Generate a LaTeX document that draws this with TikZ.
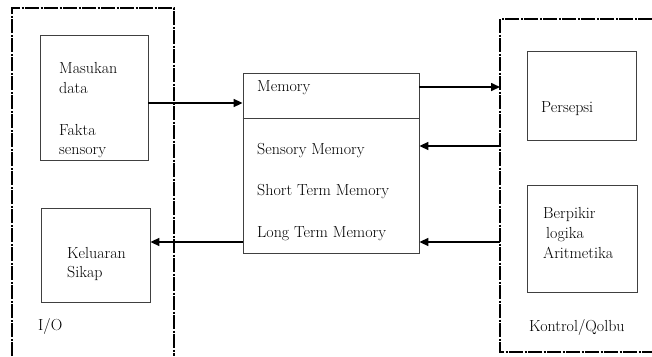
\documentclass[tikz,border=0pt]{standalone}
\usetikzlibrary{arrows.meta}
\begin{document}
\begin{tikzpicture}[x=1pt,y=-1pt,
  box/.style={draw=black!75,line width=0.8pt,rectangle,inner sep=0pt},
  txt/.style={anchor=base west,inner sep=0pt,font=\fontsize{16}{18}\selectfont},
  arr/.style={line width=1.6pt,-{Triangle[length=9pt,width=8pt]}},
  region/.style={line width=1.4pt,dash pattern=on 14pt off 1.5pt on 2pt off 1.5pt}]
\useasboundingbox (0,0) rectangle (652,356);
% regions
\draw[region] (12,356) -- (12,8) -- (174,8) -- (174,356);
\draw[region] (652,19) -- (500,19) -- (500,352) -- (652,352);
\coordinate (rA) at (500,87);
\coordinate (rB) at (500,146);
\coordinate (rC) at (500,242);
% boxes
\node[box,minimum width=108pt,minimum height=125pt] (mas) at (94,97.5) {};
\node[box,minimum width=109pt,minimum height=94pt] (kel) at (95.5,255) {};
\node[box,minimum width=176pt,minimum height=180pt] (mem) at (331,163) {};
\node[box,minimum width=109pt,minimum height=89pt] (per) at (581.5,95.5) {};
\node[box,minimum width=110pt,minimum height=107pt] (ber) at (582,238.5) {};
\draw[draw=black!75,line width=0.8pt] (mem.west |- 0,118) -- (mem.east |- 0,118);
% texts
\node[txt] (t1) at (59,73) {Masukan};
\node[txt] (t2) at (59,93) {data};
\node[txt] (t3) at (59,135) {Fakta};
\node[txt] (t4) at (59,154) {sensory};
\node[txt] (t5) at (67,258) {Keluaran};
\node[txt] (t6) at (67,277) {Sikap};
\node[txt] (t7) at (38,330) {I/O};
\node[txt] (t8) at (257,91) {Memory};
\node[txt] (t9) at (257,154) {Sensory Memory};
\node[txt] (t10) at (257,195) {Short Term Memory};
\node[txt] (t11) at (257,237) {Long Term Memory};
\node[txt] (t12) at (541,112) {Persepsi};
\node[txt] (t13) at (543,218) {Berpikir};
\node[txt] (t14) at (546,238) {logika};
\node[txt] (t15) at (543,258) {Aritmetika};
\node[txt] (t16) at (529,331) {Kontrol/Qolbu};
% arrows
\draw[arr] (mas.east |- 0,103) -- (mem.west |- 0,103);
\draw[arr] (mem.west |- 0,242) -- (kel.east |- 0,242);
\draw[arr] (mem.east |- rA) -- (rA);
\draw[arr] (rB) -- (mem.east |- rB);
\draw[arr] (rC) -- (mem.east |- rC);
\end{tikzpicture}
\end{document}
